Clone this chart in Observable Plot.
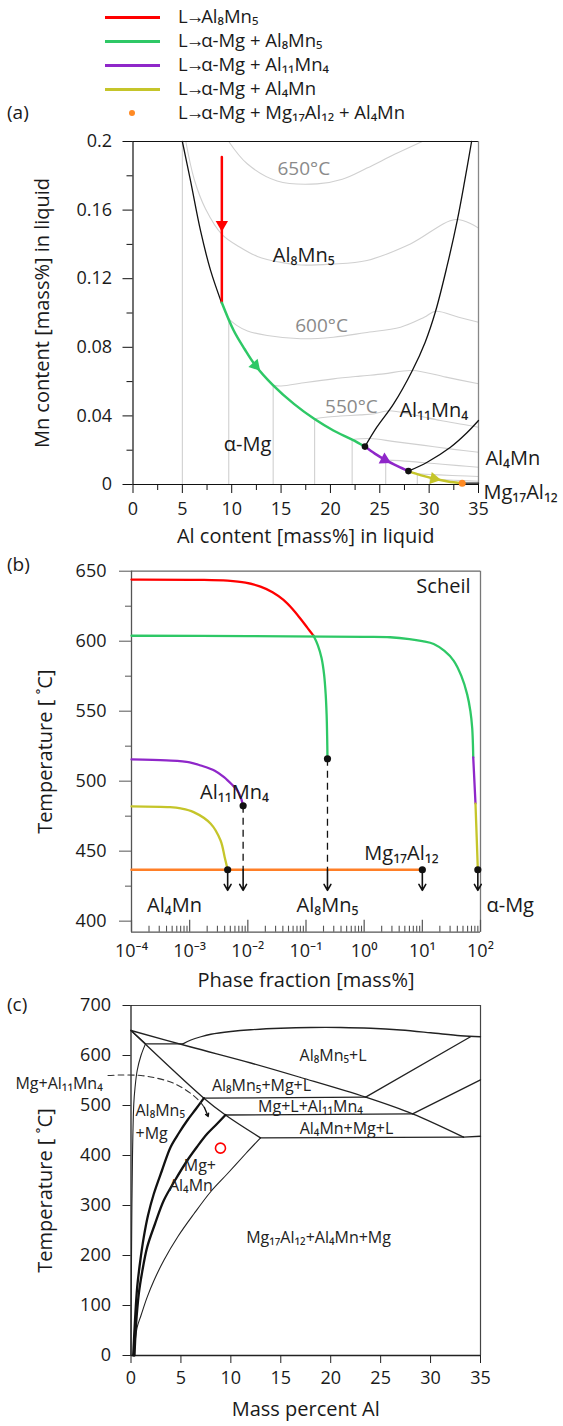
<!DOCTYPE html>
<html><head><meta charset="utf-8">
<script src="https://cdn.jsdelivr.net/npm/d3@7"></script>
<script src="https://cdn.jsdelivr.net/npm/@observablehq/plot@0.6"></script>
<style>
body{margin:0;background:#fff;}
#root{position:relative;width:563px;height:1426px;font-family:"Open Sans","Noto Sans",sans-serif;color:#1a1a1a;overflow:hidden;background:#fff}
.abs{position:absolute}
.lt{position:absolute;font-family:"Open Sans","Noto Sans",sans-serif;font-size:18.5px;line-height:22px;white-space:nowrap}
.lhead{letter-spacing:-2px}
.arr{letter-spacing:-3px}
</style></head><body><div id="root"></div>
<script>
// ================= DATA =================
// legend
const legendLabels = ["L→Al₈Mn₅","L→α-Mg + Al₈Mn₅","L→α-Mg + Al₁₁Mn₄","L→α-Mg + Al₄Mn","L→α-Mg + Mg₁₇Al₁₂ + Al₄Mn"];
const RED="#ff0000", GREEN="#2ec866", PURPLE="#8f27c9", YELLOW="#c5c52a", ORANGE="#ff8a24", GRID="#d0d0d0";
const legendColors = [RED, GREEN, PURPLE, YELLOW, ORANGE];

// ---- panel (a) : Mn vs Al in liquid ----
const aYMajor = [0,0.04,0.08,0.12,0.16,0.2];
const aYMinor = [0.02,0.06,0.1,0.14,0.18];
const aXMajor = [0,5,10,15,20,25,30,35];
const aXMinor = [2.5,7.5,12.5,17.5,22.5,27.5,32.5];
const aVerticals = [[5,0.2],[9.7,0.0966],[14.2,0.0578],[18.4,0.0383],[22.2,0.0262],[25.6,0.0142],[28.8,0.0062],[30.1,0.0031]];
const iso650 = [[9.7,0.2],[11.57,0.187],[14.6,0.177],[18.66,0.1753],[21.2,0.178],[23.7,0.1845],[26.5,0.1925],[29.3,0.2]];
const iso625 = [[5.35,0.2],[6.2,0.178],[7.34,0.1608],[9.03,0.1457],[10.8,0.1385],[12.6,0.133],[15,0.1295],[17,0.128],[20,0.1285],[23.7,0.1306],[28.1,0.1403],[32.7,0.1545],[35,0.1495]];
const iso600 = [[9.7,0.0966],[10.5,0.0928],[11.6,0.0895],[13.6,0.0869],[16.97,0.085],[20.3,0.0859],[23.5,0.0885],[27.1,0.0917],[29.5,0.0975],[30.65,0.101],[33,0.0975],[35,0.0946]];
const iso575 = [[14.2,0.0578],[15,0.0574],[17.5,0.0595],[20.3,0.0616],[23,0.0632],[25.4,0.0645],[28.3,0.0665],[31.7,0.0626],[35,0.0587]];
const iso550 = [[18.4,0.0383],[19.5,0.0392],[21,0.0399],[23,0.0406],[24.5,0.0413],[25.9,0.043],[28.5,0.0405],[31.15,0.0373],[33.5,0.035],[35,0.0334]];
const iso525 = [[22.2,0.0262],[24.0,0.0268],[26.5,0.025],[29.5,0.0228],[32.5,0.0205],[35,0.0188]];
const iso500 = [[25.6,0.0142],[28,0.0135],[30.5,0.0122],[33,0.011],[35,0.0101]];
const iso475 = [[28.8,0.0062],[31,0.0056],[33,0.0051],[35,0.0047]];
const iso450 = [[30.1,0.0031],[32.5,0.0025],[35,0.0019]];
const aIsotherms = [iso650, iso625, iso600, iso575, iso550, iso525, iso500, iso475, iso450];
const aBoundaryMg = [[5,0.2],[5.83,0.177],[6.84,0.148],[7.85,0.125],[8.97,0.106]];
const aBoundaryU = [[23.5,0.0221],[24.7,0.0334],[26.4,0.047],[28.3,0.0665],[29.6,0.083],[30.65,0.101],[31.8,0.127],[32.85,0.154],[33.6,0.177],[34.3,0.2]];
const aBoundary114 = [[27.9,0.0078],[29.8,0.013],[32.16,0.0217],[33.8,0.03],[35,0.0373]];
const aBoundaryEnd = [[33.35,0.0008],[35,0.0008]];
const aRed = [[9,0.191],[9,0.106]];
const aGreen = [[9,0.106],[10.2,0.0898],[11.3,0.079],[12.4,0.0694],[14.2,0.0578],[16.3,0.047],[18.35,0.0383],[20.3,0.0315],[22.2,0.0262],[23.5,0.0221]];
const aPurple = [[23.5,0.0221],[24.5,0.018],[25.6,0.0142],[26.8,0.0107],[27.9,0.0078]];
const aYellow = [[27.9,0.0078],[29.2,0.0053],[30.5,0.0034],[31.9,0.0018],[33.35,0.0008]];
const aBlackDots = [[23.5,0.0221],[27.9,0.0078]];
const aOrangeDot = [[33.35,0.0008]];
const aArrowDefs = [
  {p:[9,0.1516], q:[9,0.14], c:RED},
  {p:[12.4,0.0694], q:[13.3,0.0636], c:GREEN},
  {p:[25.5,0.0145], q:[26.2,0.0124], c:PURPLE},
  {p:[30.5,0.0034], q:[31.2,0.0026], c:YELLOW}
];
const aIsoLabels = [{t:"650°C",x:17.3,y:0.1841},{t:"600°C",x:19.1,y:0.0927},{t:"550°C",x:22.13,y:0.0451}];
const aPhaseLabels = [{t:"Al₈Mn₅",x:17.3,y:0.1335},{t:"α-Mg",x:11.6,y:0.0233},{t:"Al₁₁Mn₄",x:30.47,y:0.0431}];
const aSideLabels = [{t:"Al₄Mn",x:35.7,y:0.015},{t:"Mg₁₇Al₁₂",x:35.5,y:-0.0045}];

// ---- panel (b) : Scheil ----
const bYMajor = [400,450,500,550,600,650];
const bYMinor = [425,475,525,575,625];
const bXMajor = [1e-4,1e-3,1e-2,1e-1,1,10,100];
const bXMinor = bXMajor.slice(0,-1).flatMap(d => [2,3,4,5,6,7,8,9].map(k => k*d));
const bYMin = 392.1;
const bRed = [[0.0001,644],[0.00153,643.8],[0.00447,643.2],[0.0091,641.8],[0.0165,639],[0.0266,635],[0.041,629.5],[0.0586,623],[0.0804,616],[0.106,609.5],[0.1345,604]];
const bGreenA = [[0.0001,603.9],[0.01,603.6],[1,603.1],[2.8,602.8],[6,601.5],[10,600],[15.7,598],[24,593],[34.7,586],[47,575],[59,562],[67,550],[72,538],[74,527],[75,517]];
const bGreenB = [[0.1345,604],[0.16,597],[0.185,588],[0.205,576],[0.218,562],[0.226,548],[0.231,532],[0.234,516]];
const bPurpleA = [[75,517],[82,484]];
const bYellowA = [[82,484],[86,460],[90,436.7]];
const bPurpleB = [[0.0001,515.5],[0.0004,514.8],[0.001,513.5],[0.00155,511.2],[0.0027,507.5],[0.0039,502.9],[0.0055,497],[0.0066,493.4],[0.0076,488],[0.0083,482.4]];
const bYellowB = [[0.0001,482],[0.00046,481.4],[0.0007,480.5],[0.00117,477.9],[0.0023,469.6],[0.0034,457.6],[0.004,445.7],[0.0045,436.7]];
const bOrange = [[0.0001,436.7],[10,436.7]];
const bDots = [[0.0083,482.4],[0.234,516],[0.0045,436.7],[10,436.7],[90,436.7]];
const bDashedDrops = [[0.0083,482.4],[0.234,516]];
const bArrowX = [0.0045,0.0083,0.234,10,90];
const bArrowFrom = 436.7, bArrowTo = 422;
const bLabels = [{t:"Al₁₁Mn₄",x:0.0059,y:491.9},{t:"Mg₁₇Al₁₂",x:4.38,y:448.4},{t:"Al₄Mn",x:0.00055,y:411.2},{t:"Al₈Mn₅",x:0.234,y:411.2}];
const bLabelsStart = [{t:"α-Mg",x:126.7,y:411.2}];

// ---- panel (c) : phase diagram ----
const cYTicks = [0,100,200,300,400,500,600,700];
const cXTicks = [0,5,10,15,20,25,30,35];
const cLiqMg = [[0,650],[6,617],[12,585],[17,556],[23.5,516.7],[28.2,483.3],[33.3,436.7]];
const cLiqMgEnd = [[33.3,436.7],[35,438.5]];
const cArc = [[5.2,623.3],[6,631],[7,637.5],[8,642.5],[10,648],[12,651.5],[15,654.5],[18,656],[21,656],[24,654.5],[27,651],[30,645.5],[33,639.5],[35,637.5]];
const cSteep = [[0,650],[7.3,514.7],[9.46,481],[12.97,435.3]];
const cSolvus = [[12.97,435.3],[11.5,404],[9.63,363],[8,328],[6.29,283],[4.7,238],[3.28,190],[2.3,150],[1.62,116.7],[1.0,80],[0.62,56.7],[0.4,25],[0.28,0]];
const cThick1 = [[7.3,514.7],[6.5,493],[5.63,470],[4.8,445],[3.96,416.7],[3.1,370],[2.28,323],[1.7,280],[1.28,236.7],[0.9,185],[0.62,136.7],[0.4,70],[0.22,0]];
const cThick2 = [[9.46,481],[8.6,463],[7.63,443.3],[6.6,417],[5.63,390],[4.4,350],[3.28,310],[2.4,263],[1.62,216.7],[1.1,165],[0.78,123.3],[0.5,60],[0.35,0]];
const cLeftTop = [[0,650],[1.45,623.3]];
const cLeftCurve = [[1.45,623.3],[1.0,600],[0.62,570],[0.4,535],[0.28,504],[0.15,400],[0.07,250],[0.02,100],[0,0]];
const cHorizontals = [[[1.45,623.3],[5.2,623.3]],[[7.3,514.7],[23.5,516.7]],[[9.46,481],[28.2,483.3]],[[12.97,435.3],[33.3,436.7]],[[23.5,516.7],[34,637.5]],[[28.2,483.3],[35,551.3]]];
const cDashed = [[-2.3,560],[-1,561],[1,560],[2.5,555],[3.96,547],[5,537],[6,524],[6.8,510],[7.35,496]];
const cArrow = [{x1:7.35,y1:496,x2:7.73,y2:478}];
const cCircle = [[8.96,414.7]];
const cLabels = [{t:"Al₈Mn₅+L",x:20.23,y:600},{t:"Al₈Mn₅+Mg+L",x:13.07,y:540},{t:"Mg+L+Al₁₁Mn₄",x:17.97,y:496.6},{t:"Al₄Mn+Mg+L",x:21.58,y:453.4},{t:"Mg+",x:6.9,y:380},{t:"Al₄Mn",x:6.0,y:340},{t:"Mg₁₇Al₁₂+Al₄Mn+Mg",x:18.78,y:236},{t:"Mg+Al₁₁Mn₄",x:-7.2,y:544}];
const cLabelsStart = [{t:"Al₈Mn₅",x:0.45,y:490},{t:"+Mg",x:0.45,y:443.4}];

// ================= RENDER =================
const W = 563;
const FONT = "'Open Sans','Noto Sans',sans-serif";
const baseStyle = {fontFamily: FONT, fontSize: "18px", color: "#1a1a1a", background: "transparent", overflow: "visible"};
const TITLE = 20, LAB = 20;
const root = d3.select("#root");
function place(node, top){ root.append("div").attr("class","abs").style("left","0px").style("top",top+"px").node().appendChild(node); }
const L = (stroke, w, extra={}) => ({x: d=>d[0], y: d=>d[1], stroke, strokeWidth: w, curve: "catmull-rom", ...extra});
const sup = s => s.replace(/[-0-9]/g, c => ({"-":"⁻","0":"⁰","1":"¹","2":"²","3":"³","4":"⁴","5":"⁵","6":"⁶","7":"⁷","8":"⁸","9":"⁹"})[c]);
const yTitle = (t, dx, dy=0) => Plot.text([t], {frameAnchor: "left", dx, dy, rotate: -90, textAnchor: "middle", lineAnchor: "middle", fontSize: TITLE});
const xTitle = (t, dy) => Plot.text([t], {frameAnchor: "bottom", dy, textAnchor: "middle", lineAnchor: "middle", fontSize: TITLE});

// legend (HTML above the chart)
const legendRows = [17,41,65,89,113];
legendLabels.forEach((t,i) => {
  if (i < 4) root.append("div").attr("class","abs").style("left","105px").style("top",(legendRows[i]-1.5)+"px").style("width","55px").style("height","3px").style("background",legendColors[i]);
  else root.append("div").attr("class","abs").style("left","129px").style("top",(legendRows[i]-3)+"px").style("width","6px").style("height","6px").style("border-radius","50%").style("background",legendColors[i]);
  const row = root.append("div").attr("class","lt").style("left","178px").style("top",(legendRows[i]-12)+"px");
  const [head, tail] = t.split("→");
  row.append("span").attr("class","lhead").text(head);
  row.append("span").attr("class","arr").text("→");
  row.append("span").text(tail);
});
[["(a)",113],["(b)",565],["(c)",1005]].forEach(([t,y]) => root.append("div").attr("class","lt").style("left","7px").style("top",(y-12)+"px").style("font-size","19px").text(t));

// ---------- panel (a) ----------
const A = {top:125, height:430, mt:16, mb:71, ml:132.5, mr:85};
const axs = d3.scaleLinear([0,35],[A.ml, W-A.mr]);
const ays = d3.scaleLinear([0,0.2],[A.height-A.mb, A.mt]);
const aArrowHeads = aArrowDefs.map(d => {
  const dx = axs(d.q[0]) - axs(d.p[0]), dy = ays(d.q[1]) - ays(d.p[1]);
  return {...d, rot: Math.atan2(dx, -dy) * 180 / Math.PI};
});
const panelA = Plot.plot({
  width: W, height: A.height, marginTop: A.mt, marginBottom: A.mb, marginLeft: A.ml, marginRight: A.mr,
  x: {domain: [0,35]}, y: {domain: [0,0.2]}, style: baseStyle,
  marks: [
    Plot.ruleX(aVerticals, {x: d=>d[0], y1: 0, y2: d=>d[1], stroke: GRID, strokeWidth: 1.1}),
    ...aIsotherms.map(s => Plot.line(s, L(GRID, 1.1))),
    Plot.ruleY([0.2], {stroke: "#111", strokeWidth: 1.2}),
    Plot.ruleX([35], {stroke: "#888", strokeWidth: 1.3}),
    Plot.ruleX([0], {stroke: "#111", strokeWidth: 1.2}),
    Plot.ruleY([0], {stroke: "#111", strokeWidth: 1.2}),
    Plot.line(aBoundaryMg, L("#111", 1.3)),
    Plot.line(aBoundaryU, L("#111", 1.3)),
    Plot.line(aBoundary114, L("#111", 1.3)),
    Plot.line(aBoundaryEnd, L("#111", 1.3, {curve: "linear"})),
    Plot.line(aRed, L(RED, 2.5, {curve: "linear"})),
    Plot.line(aGreen, L(GREEN, 2.5)),
    Plot.line(aPurple, L(PURPLE, 2.5)),
    Plot.line(aYellow, L(YELLOW, 2.5)),
    Plot.dot(aArrowHeads, {x: d=>d.p[0], y: d=>d.p[1], symbol: "triangle", r: 4.6, fill: d=>d.c, stroke: "none", rotate: d=>d.rot}),
    Plot.dot(aBlackDots, {x: d=>d[0], y: d=>d[1], r: 3.3, fill: "#111", stroke: "none"}),
    Plot.dot(aOrangeDot, {x: d=>d[0], y: d=>d[1], r: 3.5, fill: ORANGE, stroke: "none"}),
    Plot.text(aIsoLabels, {x: "x", y: "y", text: "t", fill: "#8a8a8a", fontSize: 19}),
    Plot.text(aPhaseLabels, {x: "x", y: "y", text: "t", fill: "#1a1a1a", fontSize: LAB}),
    Plot.text(aSideLabels, {x: "x", y: "y", text: "t", fill: "#1a1a1a", fontSize: LAB, textAnchor: "start"}),
    Plot.axisY({ticks: aYMajor, tickSize: 10, tickPadding: 11, tickFormat: d => String(d), label: null, stroke: "#111"}),
    Plot.axisY({ticks: aYMinor, tickSize: 6, tickFormat: () => "", label: null, stroke: "#111"}),
    Plot.axisX({ticks: aXMajor, tickSize: 9, tickPadding: 9, tickFormat: d => String(d), label: null, stroke: "#111"}),
    Plot.axisX({ticks: aXMinor, tickSize: 6, tickFormat: () => "", label: null, stroke: "#111"}),
    yTitle("Mn content [mass%] in liquid", -90),
    xTitle("Al content [mass%] in liquid", 52)
  ]
});
place(panelA, A.top);

// ---------- panel (b) ----------
const B = {top:555, height:440, mt:15.7, mb:63.3, ml:131, mr:83};
const bFrameH = B.height - B.mt - B.mb;
const panelB = Plot.plot({
  width: W, height: B.height, marginTop: B.mt, marginBottom: B.mb, marginLeft: B.ml, marginRight: B.mr,
  x: {type: "log", domain: [1e-4, 1e2]}, y: {domain: [bYMin, 650]}, style: baseStyle,
  marks: [
    Plot.ruleY([650], {stroke: "#666", strokeWidth: 1.3}),
    Plot.ruleX([100], {stroke: "#777", strokeWidth: 1.3}),
    Plot.ruleX([1e-4], {stroke: "#555", strokeWidth: 1.3}),
    Plot.ruleY([bYMin], {stroke: "#555", strokeWidth: 1.3}),
    Plot.tickX(bXMajor, {x: d=>d, insetTop: bFrameH - 12, stroke: "#555", strokeWidth: 1.2}),
    Plot.tickX(bXMinor, {x: d=>d, insetTop: bFrameH - 6, stroke: "#555", strokeWidth: 1.1}),
    Plot.line(bOrange, L("#ff7f27", 2.5, {curve: "linear"})),
    Plot.line(bRed, L(RED, 2.3)),
    Plot.line(bGreenA, L(GREEN, 2.3)),
    Plot.line(bGreenB, L(GREEN, 2.3)),
    Plot.line(bPurpleA, L(PURPLE, 2.3, {curve: "linear"})),
    Plot.line(bYellowA, L(YELLOW, 2.3)),
    Plot.line(bPurpleB, L(PURPLE, 2.3)),
    Plot.line(bYellowB, L(YELLOW, 2.3)),
    Plot.link(bDashedDrops, {x1: d=>d[0], y1: d=>d[1], x2: d=>d[0], y2: bArrowFrom, stroke: "#111", strokeWidth: 1.3, strokeDasharray: "7,5"}),
    Plot.arrow(bArrowX, {x1: d=>d, y1: bArrowFrom, x2: d=>d, y2: bArrowTo, stroke: "#111", strokeWidth: 1.6, headLength: 9}),
    Plot.dot(bDots, {x: d=>d[0], y: d=>d[1], r: 3.6, fill: "#111", stroke: "none"}),
    Plot.text(["Scheil"], {frameAnchor: "top-right", dx: -10, dy: 15, textAnchor: "end", lineAnchor: "middle", fontSize: LAB}),
    Plot.text(bLabels, {x: "x", y: "y", text: "t", fontSize: LAB}),
    Plot.text(bLabelsStart, {x: "x", y: "y", text: "t", fontSize: LAB, textAnchor: "start"}),
    Plot.axisY({ticks: bYMajor, tickSize: 12, tickPadding: 13, tickFormat: d => String(d), label: null, stroke: "#555"}),
    Plot.axisY({ticks: bYMinor, tickSize: 6, tickFormat: () => "", label: null, stroke: "#555"}),
    Plot.axisX({ticks: bXMajor, tickSize: 0, tickPadding: 12, tickFormat: d => "10" + sup(String(Math.round(Math.log10(d)))), label: null}),
    yTitle("Temperature [ ˚C]", -86),
    xTitle("Phase fraction [mass%]", 48)
  ]
});
place(panelB, B.top);

// ---------- panel (c) ----------
const C = {top:995, height:431, mt:10, mb:71, ml:130.5, mr:83};
const panelC = Plot.plot({
  width: W, height: C.height, marginTop: C.mt, marginBottom: C.mb, marginLeft: C.ml, marginRight: C.mr,
  x: {domain: [0,35]}, y: {domain: [0,700]}, style: baseStyle,
  marks: [
    Plot.ruleY([700], {stroke: "#444", strokeWidth: 1.2}),
    Plot.ruleX([35], {stroke: "#444", strokeWidth: 1.2}),
    Plot.ruleX([0], {stroke: "#222", strokeWidth: 1.3}),
    Plot.ruleY([0], {stroke: "#222", strokeWidth: 1.3}),
    Plot.line(cLiqMg, L("#222", 1.3)),
    Plot.line(cLiqMgEnd, L("#222", 1.3, {curve: "linear"})),
    Plot.line(cArc, L("#222", 1.3)),
    Plot.line(cSteep, L("#222", 1.3)),
    Plot.line(cSolvus, L("#222", 1.1)),
    Plot.line(cLeftTop, L("#222", 1.3, {curve: "linear"})),
    Plot.line(cLeftCurve, L("#222", 1.1)),
    ...cHorizontals.map(s => Plot.line(s, L("#222", 1.3, {curve: "linear"}))),
    Plot.line(cThick1, L("#111", 2.3)),
    Plot.line(cThick2, L("#111", 2.3)),
    Plot.line(cDashed, L("#333", 1.1, {strokeDasharray: "6,4"})),
    Plot.arrow(cArrow, {x1: "x1", y1: "y1", x2: "x2", y2: "y2", stroke: "#111", strokeWidth: 1.4, headLength: 7}),
    Plot.dot(cCircle, {x: d=>d[0], y: d=>d[1], r: 5, stroke: RED, strokeWidth: 1.6, fill: "none"}),
    Plot.text(cLabels, {x: "x", y: "y", text: "t", fontSize: 16, fill: "#222"}),
    Plot.text(cLabelsStart, {x: "x", y: "y", text: "t", fontSize: 16, fill: "#222", textAnchor: "start"}),
    Plot.axisY({ticks: cYTicks, tickSize: 8, tickPadding: 12, tickFormat: d => String(d), label: null, stroke: "#222"}),
    Plot.axisX({ticks: cXTicks, tickSize: 8, tickPadding: 8, tickFormat: d => String(d), label: null, stroke: "#222"}),
    yTitle("Temperature [ ˚C]", -85.5, 10),
    xTitle("Mass percent Al", 54)
  ]
});
place(panelC, C.top);
</script></body></html>
